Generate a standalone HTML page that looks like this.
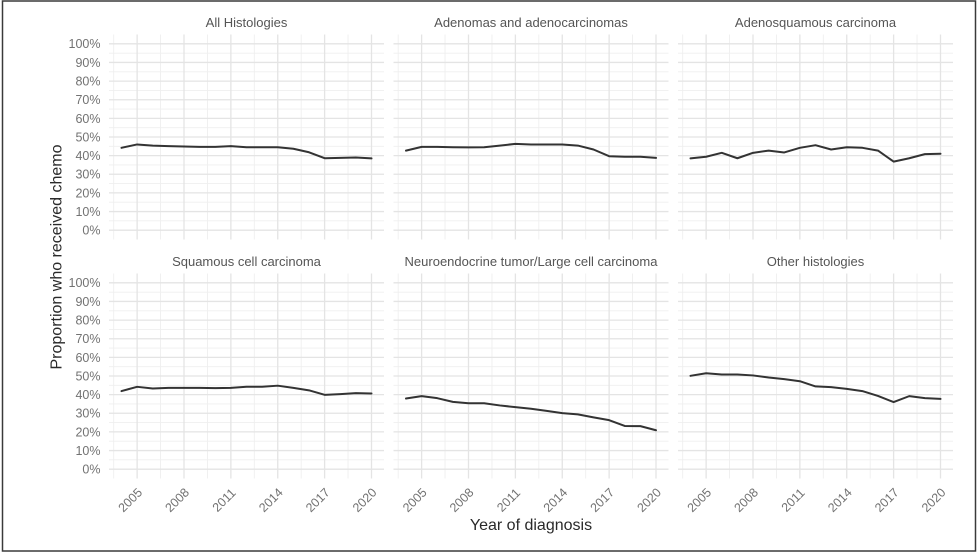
<!DOCTYPE html>
<html>
<head>
<meta charset="utf-8">
<style>
html,body{margin:0;padding:0;background:#fff;}
svg{display:block;}
text{font-family:"Liberation Sans",Arial,sans-serif;}
.tick{font-size:12.5px;fill:#727272;}
.strip{font-size:13px;fill:#555;}
.title{font-size:16px;fill:#2a2a2a;}
.ln{fill:none;stroke:#333;stroke-width:2;stroke-linejoin:round;stroke-linecap:round;}
</style>
</head>
<body>
<svg width="979" height="554" viewBox="0 0 979 554" xmlns="http://www.w3.org/2000/svg">
<defs>
<g id="grid">
<path fill="none" stroke="#efefef" stroke-width="0.9" d="M4.69 0V205M51.56 0V205M98.44 0V205M145.31 0V205M192.19 0V205M239.06 0V205M0 18.64H275M0 37.27H275M0 55.91H275M0 74.55H275M0 93.18H275M0 111.82H275M0 130.45H275M0 149.09H275M0 167.73H275M0 186.36H275"/>
<path fill="none" stroke="#e4e4e4" stroke-width="1.3" d="M28.13 0V205M75 0V205M121.88 0V205M168.75 0V205M215.63 0V205M262.5 0V205M0 9.32H275M0 27.95H275M0 46.59H275M0 65.23H275M0 83.86H275M0 102.5H275M0 121.14H275M0 139.77H275M0 158.41H275M0 177.05H275M0 195.68H275"/>
</g>
</defs>

<rect x="2.5" y="1" width="973" height="550" fill="#fff" stroke="#3a3a3a" stroke-width="1.5"/>

<!-- Row 1 -->
<g transform="translate(109,34.5)">
<use href="#grid"/>
<polyline class="ln" vector-effect="non-scaling-stroke" transform="scale(15.625,-1.8636) translate(-2003.2,-105)" points="2004,44.2 2005,46 2006,45.4 2007,45.1 2008,44.9 2009,44.7 2010,44.7 2011,45.1 2012,44.5 2013,44.5 2014,44.5 2015,43.7 2016,41.8 2017,38.6 2018,38.8 2019,39 2020,38.5"/>
</g>
<g transform="translate(393.5,34.5)">
<use href="#grid"/>
<polyline class="ln" vector-effect="non-scaling-stroke" transform="scale(15.625,-1.8636) translate(-2003.2,-105)" points="2004,42.7 2005,44.7 2006,44.7 2007,44.5 2008,44.4 2009,44.5 2010,45.4 2011,46.3 2012,46 2013,46 2014,46 2015,45.4 2016,43.3 2017,39.7 2018,39.4 2019,39.4 2020,38.8"/>
</g>
<g transform="translate(678,34.5)">
<use href="#grid"/>
<polyline class="ln" vector-effect="non-scaling-stroke" transform="scale(15.625,-1.8636) translate(-2003.2,-105)" points="2004,38.5 2005,39.4 2006,41.5 2007,38.6 2008,41.5 2009,42.7 2010,41.7 2011,44.2 2012,45.6 2013,43.3 2014,44.5 2015,44.2 2016,42.7 2017,36.8 2018,38.6 2019,40.8 2020,41"/>
</g>

<!-- Row 2 -->
<g transform="translate(109,273.5)">
<use href="#grid"/>
<polyline class="ln" vector-effect="non-scaling-stroke" transform="scale(15.625,-1.8636) translate(-2003.2,-105)" points="2004,41.9 2005,44.2 2006,43.3 2007,43.6 2008,43.6 2009,43.6 2010,43.5 2011,43.6 2012,44.2 2013,44.2 2014,44.8 2015,43.6 2016,42.3 2017,39.9 2018,40.3 2019,40.8 2020,40.6"/>
</g>
<g transform="translate(393.5,273.5)">
<use href="#grid"/>
<polyline class="ln" vector-effect="non-scaling-stroke" transform="scale(15.625,-1.8636) translate(-2003.2,-105)" points="2004,37.9 2005,39.2 2006,38.1 2007,36.1 2008,35.4 2009,35.4 2010,34.2 2011,33.3 2012,32.4 2013,31.3 2014,30.1 2015,29.4 2016,27.8 2017,26.3 2018,23.2 2019,23.1 2020,20.9"/>
</g>
<g transform="translate(678,273.5)">
<use href="#grid"/>
<polyline class="ln" vector-effect="non-scaling-stroke" transform="scale(15.625,-1.8636) translate(-2003.2,-105)" points="2004,50.1 2005,51.5 2006,50.8 2007,50.8 2008,50.3 2009,49.2 2010,48.3 2011,47.2 2012,44.4 2013,44 2014,43.1 2015,41.9 2016,39.3 2017,36 2018,39.2 2019,38.1 2020,37.7"/>
</g>

<!-- Strip titles -->
<text class="strip" x="246.5" y="27" text-anchor="middle">All Histologies</text>
<text class="strip" x="531" y="27" text-anchor="middle">Adenomas and adenocarcinomas</text>
<text class="strip" x="815.5" y="27" text-anchor="middle">Adenosquamous carcinoma</text>
<text class="strip" x="246.5" y="266" text-anchor="middle">Squamous cell carcinoma</text>
<text class="strip" x="531" y="266" text-anchor="middle">Neuroendocrine tumor/Large cell carcinoma</text>
<text class="strip" x="815.5" y="266" text-anchor="middle">Other histologies</text>

<!-- Y tick labels row 1 -->
<g class="tick" text-anchor="end">
<text x="100.5" y="43.8" dy=".35em">100%</text>
<text x="100.5" y="62.5" dy=".35em">90%</text>
<text x="100.5" y="81.1" dy=".35em">80%</text>
<text x="100.5" y="99.7" dy=".35em">70%</text>
<text x="100.5" y="118.4" dy=".35em">60%</text>
<text x="100.5" y="137" dy=".35em">50%</text>
<text x="100.5" y="155.6" dy=".35em">40%</text>
<text x="100.5" y="174.3" dy=".35em">30%</text>
<text x="100.5" y="192.9" dy=".35em">20%</text>
<text x="100.5" y="211.5" dy=".35em">10%</text>
<text x="100.5" y="230.2" dy=".35em">0%</text>
</g>
<!-- Y tick labels row 2 -->
<g class="tick" text-anchor="end">
<text x="100.5" y="282.8" dy=".35em">100%</text>
<text x="100.5" y="301.5" dy=".35em">90%</text>
<text x="100.5" y="320.1" dy=".35em">80%</text>
<text x="100.5" y="338.7" dy=".35em">70%</text>
<text x="100.5" y="357.4" dy=".35em">60%</text>
<text x="100.5" y="376" dy=".35em">50%</text>
<text x="100.5" y="394.6" dy=".35em">40%</text>
<text x="100.5" y="413.3" dy=".35em">30%</text>
<text x="100.5" y="431.9" dy=".35em">20%</text>
<text x="100.5" y="450.5" dy=".35em">10%</text>
<text x="100.5" y="469.2" dy=".35em">0%</text>
</g>

<!-- X tick labels -->
<g class="tick" text-anchor="middle">
<text transform="translate(130.1,500) rotate(-45)" dy=".35em">2005</text>
<text transform="translate(177,500) rotate(-45)" dy=".35em">2008</text>
<text transform="translate(223.9,500) rotate(-45)" dy=".35em">2011</text>
<text transform="translate(270.8,500) rotate(-45)" dy=".35em">2014</text>
<text transform="translate(317.6,500) rotate(-45)" dy=".35em">2017</text>
<text transform="translate(364.5,500) rotate(-45)" dy=".35em">2020</text>

<text transform="translate(414.6,500) rotate(-45)" dy=".35em">2005</text>
<text transform="translate(461.5,500) rotate(-45)" dy=".35em">2008</text>
<text transform="translate(508.4,500) rotate(-45)" dy=".35em">2011</text>
<text transform="translate(555.3,500) rotate(-45)" dy=".35em">2014</text>
<text transform="translate(602.1,500) rotate(-45)" dy=".35em">2017</text>
<text transform="translate(649,500) rotate(-45)" dy=".35em">2020</text>

<text transform="translate(699.1,500) rotate(-45)" dy=".35em">2005</text>
<text transform="translate(746,500) rotate(-45)" dy=".35em">2008</text>
<text transform="translate(792.9,500) rotate(-45)" dy=".35em">2011</text>
<text transform="translate(839.8,500) rotate(-45)" dy=".35em">2014</text>
<text transform="translate(886.6,500) rotate(-45)" dy=".35em">2017</text>
<text transform="translate(933.5,500) rotate(-45)" dy=".35em">2020</text>
</g>

<!-- Axis titles -->
<text class="title" x="531" y="530" text-anchor="middle">Year of diagnosis</text>
<text class="title" transform="translate(61.5,257) rotate(-90)" text-anchor="middle">Proportion who received chemo</text>
</svg>
</body>
</html>
